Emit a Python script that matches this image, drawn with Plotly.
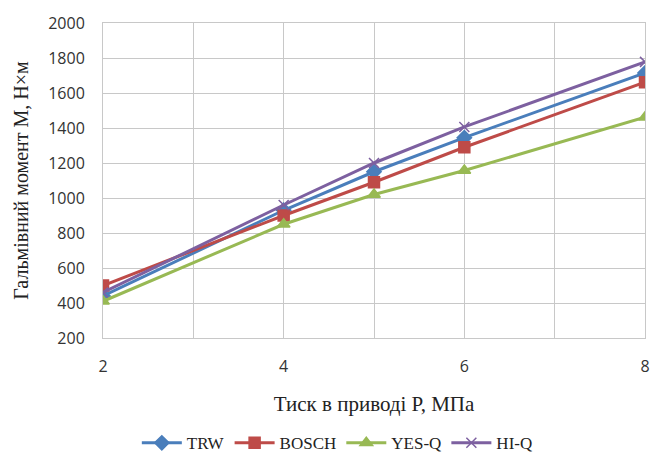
import plotly.graph_objects as go

pressure = [2, 4, 5, 6, 8]
trw = [440, 930, 1150, 1345, 1715]
bosch = [500, 900, 1090, 1290, 1662]
yesq = [410, 850, 1020, 1157, 1462]
hiq = [460, 960, 1200, 1406, 1778]

x_ticks = [2, 4, 6, 8]
y_ticks = [200, 400, 600, 800, 1000, 1200, 1400, 1600, 1800, 2000]

series = [
    ("TRW", trw, "#4a7ebb", "diamond"),
    ("BOSCH", bosch, "#be4b48", "square"),
    ("YES-Q", yesq, "#98b954", "triangle-up"),
    ("HI-Q", hiq, "#7d60a0", "x-thin"),
]

fig = go.Figure()
for name, vals, color, sym in series:
    fig.add_trace(go.Scatter(
        x=pressure, y=vals, name=name, mode="lines+markers",
        line=dict(color=color, width=3),
        marker=dict(symbol=sym, size=11 if sym != "x-thin" else 10, color=color,
                    line=dict(color=color, width=1.5)),
    ))

fig.update_layout(
    width=655, height=457,
    margin=dict(l=103, r=5, t=23, b=119),
    paper_bgcolor="white", plot_bgcolor="white",
    showlegend=True,
    legend=dict(orientation="h", x=0.515, xanchor="center", xref="container",
                y=0.03, yanchor="middle", yref="container",
                font=dict(family="Liberation Serif", size=17, color="#222"),
                itemwidth=40, tracegroupgap=0),
    font=dict(family="Liberation Serif"),
)
fig.update_xaxes(
    range=[2, 8], tickvals=x_ticks,
    showgrid=True, gridcolor="#c8c8c8", gridwidth=1,
    tickfont=dict(family="Open Sans", size=16, color="#333"),
    ticks="", showline=True, linecolor="#c8c8c8", mirror=True,
    ticklabelstandoff=14,
    title=dict(text="Тиск в приводі Р, МПа", font=dict(family="Liberation Serif", size=21, color="#222"), standoff=20),
)
fig.update_xaxes(minor=dict(dtick=1, showgrid=True, gridcolor="#c8c8c8", tick0=2))
fig.update_yaxes(
    range=[200, 2000], tickvals=y_ticks,
    showgrid=True, gridcolor="#c8c8c8", gridwidth=1,
    tickfont=dict(family="Open Sans", size=16, color="#333"),
    ticks="", showline=True, linecolor="#c8c8c8", mirror=True,
    ticklabelstandoff=14,
    title=dict(text="Гальмівний момент М, Н×м", font=dict(family="Liberation Serif", size=20, color="#222"), standoff=14),
)

fig.write_html("out.html")
